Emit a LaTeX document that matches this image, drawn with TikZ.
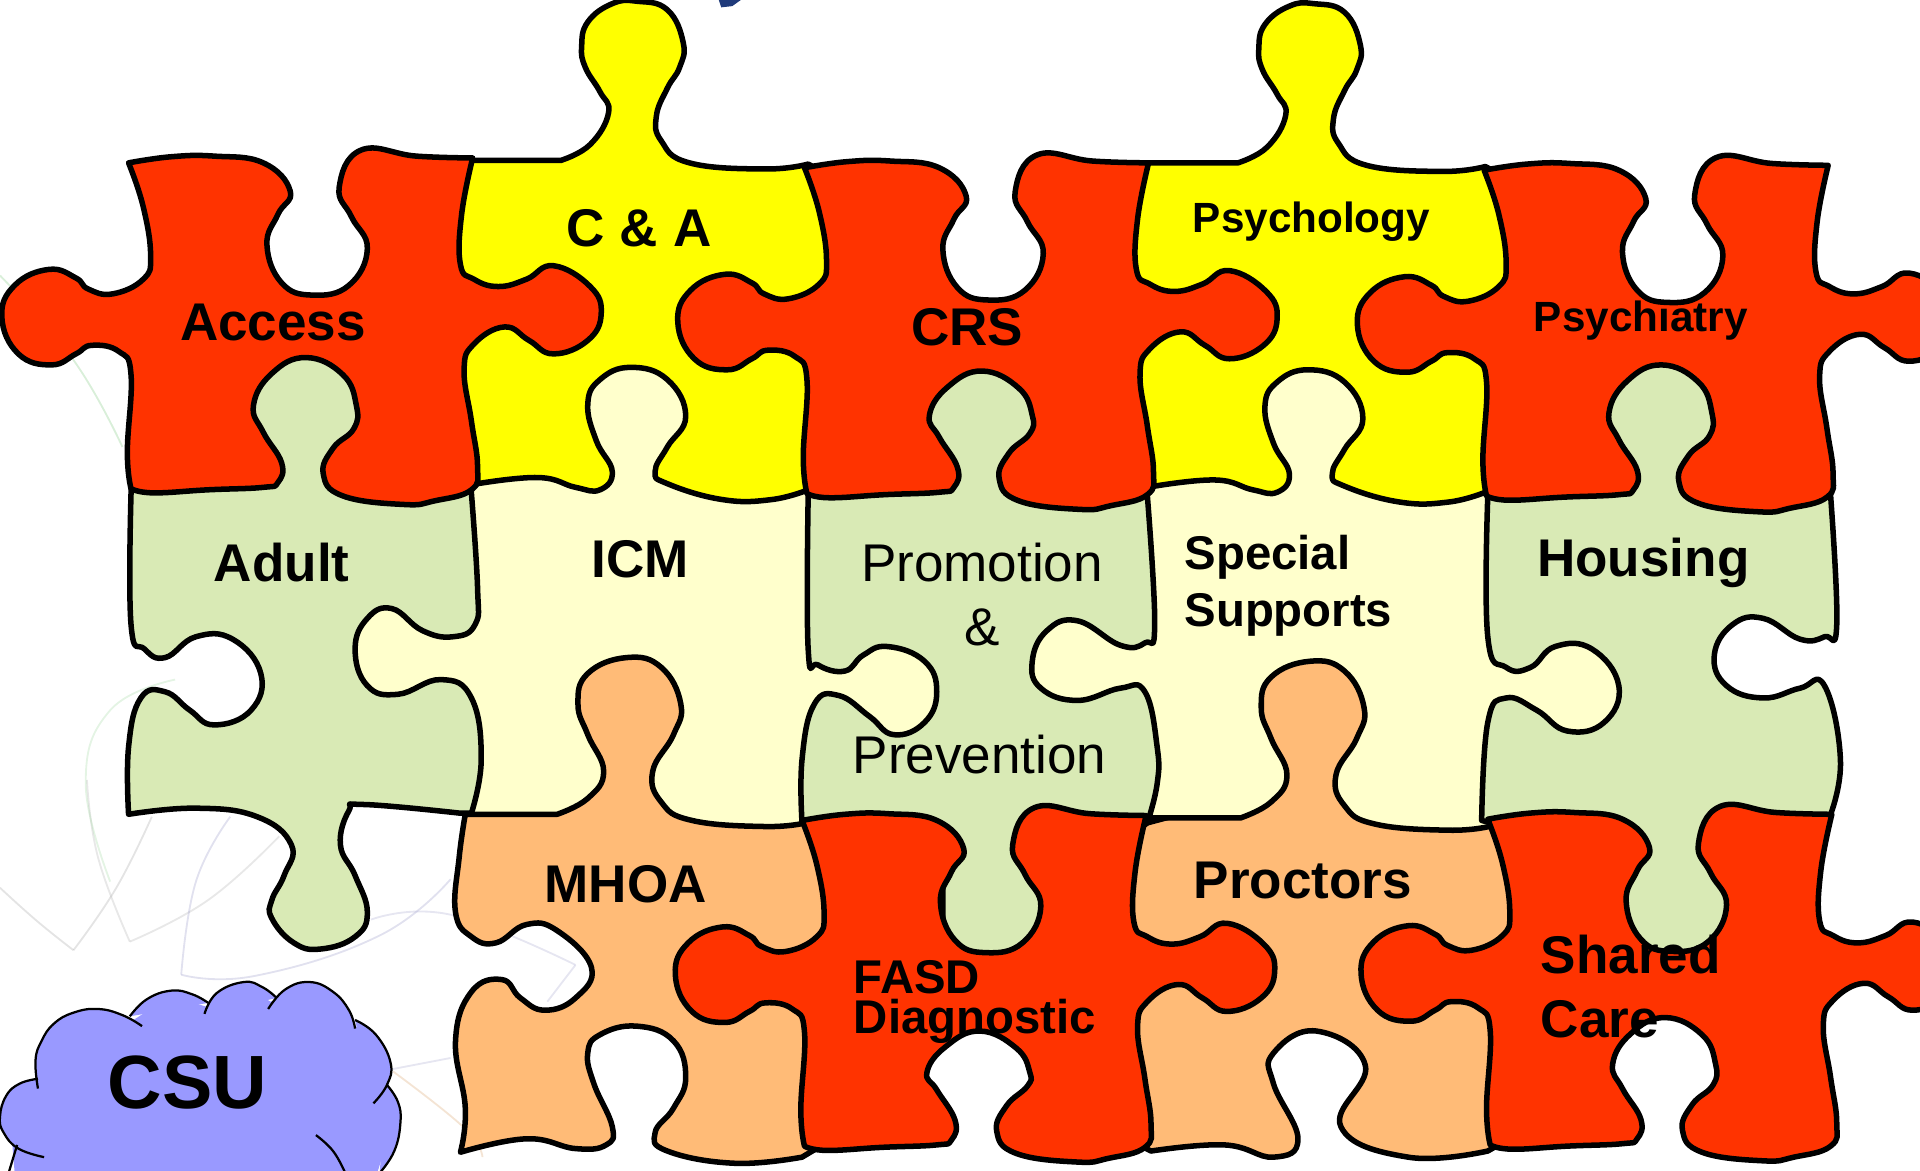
\documentclass[tikz,border=0pt]{standalone}
\usepackage{fontspec}
\setmainfont{Liberation Sans}
\definecolor{cred}{HTML}{FF3300}
\definecolor{cyel}{HTML}{FFFF00}
\definecolor{cgrn}{HTML}{D9EAB5}
\definecolor{ccrm}{HTML}{FFFFCC}
\definecolor{corg}{HTML}{FFBB77}
\definecolor{ccld}{HTML}{9999FF}
\definecolor{cnavy}{HTML}{1F3A7A}
\def\pRed#1{plot[smooth] coordinates{(105,133)(140,128)(175,127.5)(215,133)(237,156)(227,175)(218,200)(230,231)(255,241)(285,233)(300,203)(287,177)(277,153)(295,122.5)(340,127.5)(386,129)} -- plot[smooth] coordinates{(386,129)(377,175)(376,216)(387,228)(407,234)(430,228)(452,217)(482,234)(491,256)(480,278)(452,289)(432,278)(412,267)(387,281)(379,302)(385,344)(390,381)(385,400)(355,409)(330,412)(280,405)(264,387)(272,366)(289,350)(291,331+#1*.6)(280,306+#1)(250,292+#1)(222,305+#1)(207,331+#1*.6)(215,353)(230,378)(227,394)(215,398)(170,400)(125,402.5)(107,399)} -- plot[smooth] coordinates{(107,399)(104,369)(107,306)(97,287)(75,282)(62,289)(42,298)(15,289)(1.5,259)(12,233)(40,220)(62,227)(72,236)(92,240)(117,228)(123,209)(117,169)(105,133)} -- cycle}
\def\pYel{(386,131) -- (458,131) -- plot[smooth] coordinates{(458,131)(482,118)(497,92)(490,75)(478,55)(475,38)(480,18)(500,3)(520,1)(545,8)(558,35)(555,55)(545,72)(536,95)(540,115)(563,133)(625,138)(660,134)} -- (690,150) -- (690,395) -- (660,400) -- plot[smooth] coordinates{(660,400)(630,408)(590,408)(545,395)(535,385)(545,365)(560,340)(545,310)(515,300)(490,310)(480,330)(487,360)(500,385)(490,400)(470,398)(440,390)(390,395)} -- (360,390) -- (360,140) -- cycle}
\def\pCrm{(388,380) -- (470,375) -- (470,290) -- (570,290) -- (570,385) -- (660,385) -- (680,400) -- (690,520) -- (775,520) -- (775,610) -- (680,610) -- (680,660) -- plot[smooth] coordinates{(658,672)(625,675)(565,670)(540,655)(533,630)(550,600)(556,575)(540,545)(512,537)(480,550)(472,575)(480,600)(493,630)(480,652)(455,665)} -- (380,665) -- (370,640) -- (370,575) -- (280,575) -- (280,490) -- (370,490) -- (370,420) -- cycle}
\def\pOrg{(380,665) -- (400,640) -- (465,640) -- (465,530) -- (565,530) -- (565,640) -- (650,650) -- (690,680) -- (680,930) -- plot[smooth] coordinates{(655,945)(600,950)(545,940)(535,925)(550,905)(560,880)(550,850)(520,838)(490,845)(480,860)(485,885)(500,920)(495,935)(470,938)(430,930)(376,941)} -- plot[smooth] coordinates{(376,941)(380,905)(372,850)(385,810)(410,800)(425,815)(445,825)(470,815)(483,790)(455,760)(430,755)(405,770)(385,765)(372,745)(375,700)(380,665)} -- cycle}
\def\pAdult{(107,403) -- (107,385) -- (200,385) -- (200,285) -- (300,285) -- (300,385) -- (385,385) -- plot[smooth] coordinates{(385,403)(390,480)(388,510)(370,520)(345,515)(320,497)(300,505)(290,530)(300,560)(325,567)(360,555)(385,570)(393,620)(385,664)} -- plot[smooth] coordinates{(375,664)(297,657)(285,662)(278,690)(290,715)(300,745)(290,765)(262,775)(240,770)(222,750)(222,735)(232,715)(238,690)(210,667)(160,660)(105,665)} -- plot[smooth] coordinates{(105,665)(105,610)(115,570)(135,565)(155,580)(175,592)(205,580)(213,550)(190,522)(160,520)(135,537)(118,530)(107,510)(107,403)} -- cycle}
\def\pPromo{(660,405) -- (660,385) -- (750,385) -- (750,290) -- (850,290) -- (850,385) -- (937,385) -- plot[smooth] coordinates{(937,405)(943,510)(935,525)(915,527)(880,507)(855,515)(843,540)(850,562)(880,572)(915,562)(935,565)(945,610)(945,640)(937,672)} -- (860,700) -- (860,790) -- (770,790) -- (770,700) -- plot[smooth] coordinates{(655,672)(655,620)(665,575)(685,568)(710,585)(730,600)(755,590)(765,565)(755,540)(725,528)(705,535)(690,548)(668,543)(660,530)(660,405)} -- cycle}
\def\pHouse{(1215,405) -- (1215,385) -- (1310,385) -- (1310,290) -- (1410,290) -- (1410,385) -- (1495,385) -- plot[smooth] coordinates{(1495,405)(1500,510)(1490,520)(1470,522)(1440,505)(1415,510)(1400,535)(1410,560)(1440,570)(1470,562)(1490,560)(1503,620)(1495,665)} -- (1420,700) -- (1420,790) -- (1320,790) -- (1320,700) -- plot[smooth] coordinates{(1210,670)(1215,590)(1230,570)(1255,580)(1280,597)(1310,590)(1322,560)(1300,530)(1270,528)(1250,545)(1230,545)(1215,520)(1215,405)} -- cycle}
\def\pProc{(937,672) -- (900,700) -- (900,920) -- plot[smooth] coordinates{(940,940)(1000,935)(1040,945)(1060,930)(1040,885)(1040,860)(1075,842)(1115,870)(1095,920)(1150,945)(1215,940)} -- (1250,920) -- (1250,700) -- (1215,672) -- (1120,650) -- (1120,530) -- (1020,530) -- (1020,650) -- cycle}
\begin{document}
\begin{tikzpicture}[x=0.6pt,y=-0.6pt,line join=round,tension=.75,
  pc/.style={draw=black,line width=2.7pt},
  bg/.style={line width=.9pt,opacity=.3},
  big/.style={font=\bfseries\fontsize{26}{30}\selectfont,anchor=base,inner sep=0pt},
  mid/.style={font=\bfseries\fontsize{23.2}{28}\selectfont,anchor=base west,inner sep=0pt},
  sml/.style={font=\bfseries\fontsize{20.7}{24}\selectfont,anchor=base,inner sep=0pt},
  reg/.style={font=\fontsize{26}{30}\selectfont,anchor=base,inner sep=0pt},
  cld/.style={draw=black,line width=1.1pt}]
\useasboundingbox (0,0) rectangle (1568,956.3);
\clip (0,0) rectangle (1568,956.3);
% faint background curves
\draw[bg,gray!70] plot[smooth] coordinates{(0,725)(30,752)(60,776)};
\draw[bg,gray!70] plot[smooth] coordinates{(60,776)(95,725)(124,667)};
\draw[bg,gray!60] plot[smooth] coordinates{(71,637)(80,700)(106,769)};
\draw[bg,gray!60] plot[smooth] coordinates{(106,769)(170,735)(228,683)};
\draw[bg,blue!30!gray!60] plot[smooth] coordinates{(188,667)(160,720)(148,796)};
\draw[bg,blue!30!gray!60] plot[smooth] coordinates{(148,796)(208,797)(310,764)(368,718)};
\draw[bg,blue!30!gray!50] plot[smooth] coordinates{(303,751)(368,747)(470,788)};
\draw[bg,blue!30!gray!50] (470,788) -- (447,818);
\draw[bg,blue!30!gray!50] (321,873) -- (368,864);
\draw[bg,orange!60!gray!70] plot[smooth] coordinates{(321,875)(379,921)(394,945)};
\draw[bg,green!40!gray!70] plot[smooth] coordinates{(0,225)(60,294)(100,365)};
\draw[bg,green!40!gray!50] plot[smooth] coordinates{(143,555)(90,580)(70,640)(90,720)};
\fill[cnavy] (587,0) -- (605,0) -- (598,5) -- (589,6) -- cycle;
% lower layers
\draw[pc,fill=corg] \pOrg;
\draw[pc,fill=corg] \pProc;
\draw[pc,fill=ccrm] \pCrm;
\draw[pc,fill=ccrm,shift={(558,3)}] \pCrm;
\draw[pc,fill=cgrn] \pAdult;
\draw[pc,fill=cgrn] \pPromo;
\draw[pc,fill=cgrn] \pHouse;
\draw[pc,fill=cyel] \pYel;
\draw[pc,fill=cyel,shift={(553,2)}] \pYel;
% red layer
\draw[pc,fill=cred] \pRed{0};
\draw[pc,fill=cred,shift={(552,4)}] \pRed{7};
\draw[pc,fill=cred,shift={(1107,6)}] \pRed{0};
\draw[pc,fill=cred,shift={(550,537)}] \pRed{13};
\draw[pc,fill=cred,shift={(1110,536)}] \pRed{3};
% cloud
\def\cA{plot[smooth] coordinates{(36,945)(15,938)(3,925)(0,912)(5,895)(16,885)(31,881)}}
\def\cB{plot[smooth] coordinates{(31,889)(29,866)(34,850)(44,836)(60,827)(80,824)(100,829)(116,838)}}
\def\cC{plot[smooth] coordinates{(106,830)(120,816)(140,809)(157,812)(170,819)}}
\def\cD{plot[smooth] coordinates{(167,828)(177,811)(199,802)(214,806)(226,815)}}
\def\cE{plot[smooth] coordinates{(219,824)(233,808)(253,802)(272,810)(285,825)(290,840)}}
\def\cF{plot[smooth] coordinates{(290,833)(307,845)(319,868)(316,886)(305,901)}}
\def\cG{plot[smooth] coordinates{(316,886)(325,900)(327,917)(322,940)(310,958)}}
\def\cH{plot[smooth] coordinates{(258,927)(272,940)(282,958)}}
\fill[ccld] (12,958) -- (8,910) -- (32,885) -- (36,850) -- (80,828) -- (109,833) -- (140,813) -- (168,822) -- (199,806) -- (221,818) -- (253,806) -- (288,835) -- (316,868) -- (320,920) -- (308,958) -- cycle;
\fill[ccld] \cA; \fill[ccld] \cB; \fill[ccld] \cC; \fill[ccld] \cD; \fill[ccld] \cE; \fill[ccld] \cF; \fill[ccld] \cG;
\draw[cld] \cA; \draw[cld] \cB; \draw[cld] \cC; \draw[cld] \cD; \draw[cld] \cE; \draw[cld] \cF; \draw[cld] \cG; \draw[cld] \cH;
\draw[cld] (7,958) -- (14,935);
% labels
\node[big] (access) at (223,278) {Access};
\node[big] (ca) at (522,201) {C \& A};
\node[big] (crs) at (790,282) {CRS};
\node[sml] (psychology) at (1071,190) {Psychology};
\node[sml] (psychiatry) at (1340,271) {Psychiatry};
\node[big] (adult) at (230,475) {Adult};
\node[big] (icm) at (523,472) {ICM};
\node[reg] (promo) at (802,475) {Promotion};
\node[reg] (amp) at (802,527) {\&};
\node[reg] (prev) at (800,632) {Prevention};
\node[mid] (special) at (967,465) {Special};
\node[mid] (supports) at (967,512) {Supports};
\node[big] (housing) at (1342,471) {Housing};
\node[big] (mhoa) at (511,737) {MHOA};
\node[big] (proctors) at (1064,734) {Proctors};
\node[mid] (fasd) at (697,811) {FASD};
\node[mid] (diag) at (697,844) {Diagnostic};
\node[big,anchor=base west] (shared) at (1258,795) {Shared};
\node[big,anchor=base west] (care) at (1258,847) {Care};
\node[font=\bfseries\fontsize{37}{40}\selectfont,anchor=base,inner sep=0pt] (csu) at (153,905) {CSU};
\end{tikzpicture}
\end{document}
